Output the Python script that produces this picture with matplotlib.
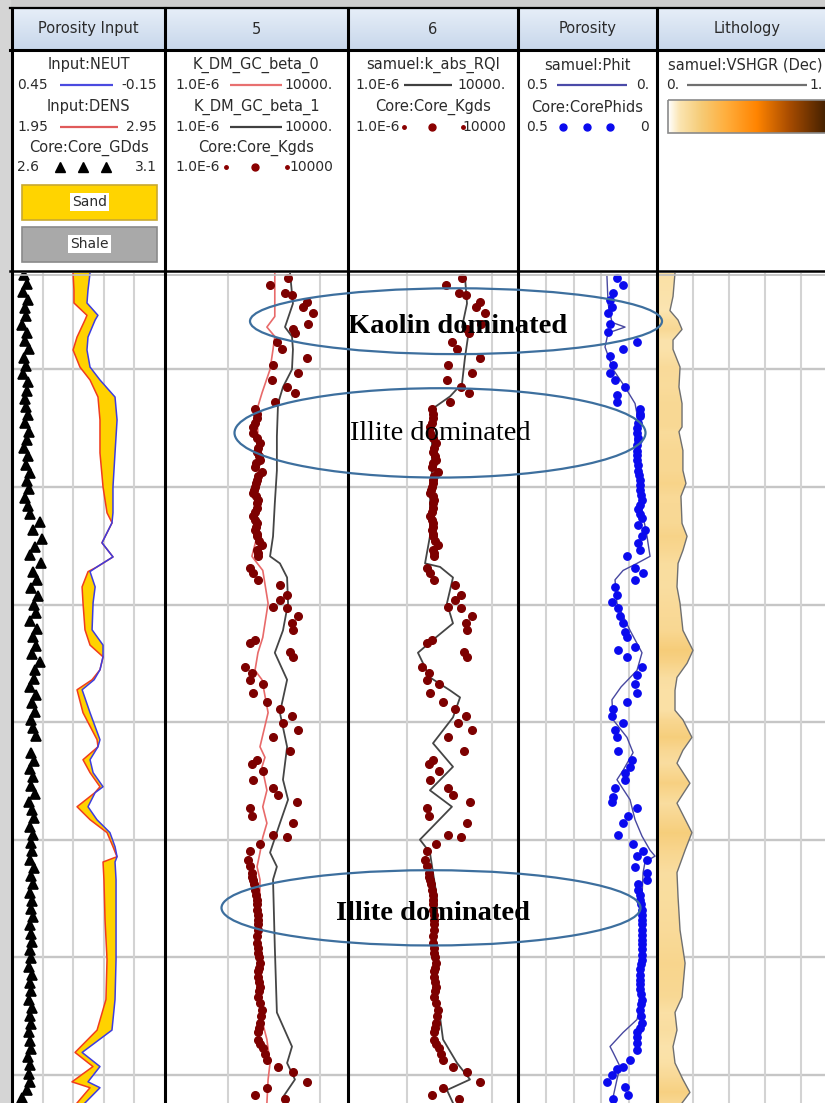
import numpy as np
import matplotlib
matplotlib.use('Agg')
import matplotlib.pyplot as plt
from matplotlib.patches import Ellipse, Rectangle
from matplotlib.colors import LinearSegmentedColormap

W, H = 825, 1103
TOP, BASE = 1801.8, 1872.4
grid_depths = [1810, 1820, 1830, 1840, 1850, 1860, 1870]

# ---------------- Porosity input (NEUT / DENS) ----------------
log_depth = [1801.8, 1803.25, 1804.35, 1805.4, 1805.8, 1807.25, 1808.35, 1809.8, 1810.9, 1812.35,
             1814.3, 1817.1, 1820.0, 1822.2, 1823.05, 1824.75, 1825.95, 1826.8, 1827.2, 1828.5,
             1829.85, 1832.15, 1833.45, 1834.45, 1835.55, 1836.4, 1837.25, 1839.2, 1841.5, 1842.1,
             1843.2, 1844.3, 1845.5, 1846.0, 1847.2, 1848.3, 1849.4, 1850.6, 1851.45, 1851.9,
             1853.4, 1856.8, 1860.2, 1863.6, 1866.2, 1868.1, 1869.3, 1870.6, 1871.1, 1872.4]
dens = [2.349, 2.355, 2.355, 2.440, 2.427, 2.375, 2.349, 2.394, 2.460, 2.512,
        2.525, 2.525, 2.545, 2.571, 2.604, 2.538, 2.610, 2.506, 2.447, 2.408,
        2.414, 2.427, 2.460, 2.545, 2.525, 2.473, 2.375, 2.414, 2.506, 2.512,
        2.414, 2.460, 2.525, 2.492, 2.375, 2.460, 2.571, 2.610, 2.636, 2.545,
        2.551, 2.558, 2.571, 2.564, 2.506, 2.362, 2.479, 2.342, 2.460, 2.375]
neut = [0.144, 0.152, 0.156, 0.113, 0.124, 0.152, 0.156, 0.144, 0.105, 0.046,
        0.038, 0.046, 0.054, 0.054, 0.058, 0.097, 0.054, 0.117, 0.144, 0.124,
        0.132, 0.136, 0.093, 0.093, 0.105, 0.128, 0.175, 0.144, 0.105, 0.113,
        0.144, 0.132, 0.093, 0.124, 0.152, 0.117, 0.066, 0.046, 0.038, 0.046,
        0.042, 0.042, 0.042, 0.046, 0.058, 0.175, 0.105, 0.152, 0.105, 0.164]

# core grain density (triangles)
gd_depth = [1802.0, 1802.7, 1803.4, 1804.1, 1804.8, 1805.5, 1806.2, 1806.9, 1807.6, 1808.3,
            1809.0, 1809.7, 1810.4, 1811.1, 1811.8, 1812.5, 1813.2, 1813.9, 1814.6, 1815.3,
            1816.0, 1816.7, 1817.4, 1818.1, 1818.8, 1819.5, 1820.2, 1820.9, 1821.6, 1822.3,
            1823.0, 1823.7, 1824.4, 1825.1, 1825.8, 1826.5, 1827.2, 1827.9, 1828.6, 1829.3,
            1830.0, 1830.7, 1831.4, 1832.1, 1832.8, 1833.5, 1834.2, 1834.9, 1835.6, 1836.3,
            1837.0, 1837.7, 1838.4, 1839.1, 1839.8, 1840.5, 1841.2, 1842.6, 1843.3, 1844.0,
            1844.7, 1845.4, 1846.1, 1846.8, 1847.5, 1848.2, 1848.9, 1849.6, 1850.3, 1851.0,
            1851.7, 1852.4, 1853.1, 1853.8, 1854.5, 1855.2, 1855.9, 1856.6, 1857.3, 1858.0,
            1858.7, 1859.4, 1860.1, 1860.8, 1861.5, 1862.2, 1862.9, 1863.6, 1864.3, 1865.0,
            1865.7, 1866.4, 1867.1, 1867.8, 1868.5, 1869.2, 1869.9, 1870.6, 1871.3, 1872.0]
core_gd = [2.639, 2.649, 2.636, 2.652, 2.642, 2.646, 2.633, 2.649, 2.642, 2.656,
           2.639, 2.646, 2.636, 2.652, 2.649, 2.642, 2.646, 2.652, 2.642, 2.656,
           2.649, 2.639, 2.652, 2.646, 2.659, 2.649, 2.656, 2.642, 2.652, 2.659,
           2.692, 2.669, 2.698, 2.675, 2.659, 2.695, 2.669, 2.682, 2.662, 2.685,
           2.672, 2.678, 2.659, 2.682, 2.669, 2.678, 2.665, 2.692, 2.675, 2.672,
           2.659, 2.678, 2.665, 2.675, 2.662, 2.669, 2.678, 2.662, 2.672, 2.659,
           2.669, 2.662, 2.675, 2.656, 2.665, 2.672, 2.659, 2.669, 2.662, 2.665,
           2.659, 2.672, 2.662, 2.669, 2.659, 2.665, 2.662, 2.669, 2.659, 2.662,
           2.665, 2.659, 2.662, 2.656, 2.665, 2.659, 2.662, 2.656, 2.665, 2.659,
           2.662, 2.656, 2.659, 2.662, 2.652, 2.659, 2.656, 2.659, 2.649, 2.633]

# ---------------- Permeability ----------------
b0_depth = [1801.8, 1805.5, 1806.4, 1807.2, 1808.3, 1810.0, 1812.0, 1813.4, 1815.7, 1818.6,
            1821.4, 1824.2, 1825.9, 1827.1, 1829.9, 1832.8, 1834.1, 1835.6, 1836.4, 1839.2,
            1842.1, 1843.0, 1843.8, 1845.8, 1847.2, 1848.6, 1849.8, 1851.1, 1852.3, 1853.4,
            1858.5, 1864.7, 1867.0, 1869.0, 1870.4, 1872.4]
k_beta0 = [1.0, 1.0, 0.37, 1.0, 0.80, 0.55, 0.20, 0.107, 0.12, 0.12,
           0.107, 0.107, 0.056, 0.22, 0.43, 0.22, 0.12, 0.083, 0.20, 0.43,
           0.155, 0.29, 0.20, 0.37, 0.22, 0.37, 0.22, 0.155, 0.107, 0.155,
           0.14, 0.155, 0.37, 0.55, 0.43, 0.37]

b1_depth = [1801.8, 1804.4, 1806.4, 1807.2, 1808.3, 1810.0, 1811.5, 1812.9, 1815.7, 1818.6,
            1821.4, 1824.2, 1825.9, 1826.5, 1827.7, 1829.9, 1832.2, 1834.1, 1836.4, 1839.2,
            1842.1, 1844.9, 1846.6, 1848.6, 1851.1, 1852.3, 1853.4, 1859.1, 1864.7, 1867.6,
            1869.0, 1870.4, 1871.9]
k_beta1 = [6.8, 9.8, 3.6, 8.7, 9.8, 8.7, 2.8, 1.5, 1.3, 1.3,
           1.0, 0.80, 0.55, 1.9, 4.7, 5.3, 2.8, 1.0, 4.7, 1.9,
           4.7, 2.8, 5.3, 1.9, 0.55, 1.3, 0.80, 1.0, 1.3, 8.7,
           4.7, 12.6, 2.8]

rqi_depth = [1802.1, 1804.4, 1806.4, 1807.2, 1809.0, 1811.2, 1812.3, 1813.2, 1815.7, 1818.6,
             1821.4, 1824.2, 1826.5, 1826.8, 1827.7, 1829.9, 1831.6, 1833.0, 1834.1, 1836.2,
             1837.3, 1837.9, 1839.6, 1841.8, 1843.8, 1845.8, 1847.2, 1850.0, 1851.1, 1852.8,
             1854.9, 1861.9, 1867.0, 1869.0, 1870.4, 1871.3, 1872.4]
k_rqi = [7.6, 10, 5.1, 11.5, 7.6, 5.1, 1.0, 0.13, 0.087, 0.087,
         0.066, 0.066, 0.034, 0.26, 1.5, 0.66, 1.5, 0.10, 0.013, 0.066,
         1.0, 3.9, 1.5, 0.10, 1.5, 0.066, 1.3, 0.017, 0.066, 0.10,
         0.17, 0.13, 0.39, 2.6, 15, 0.66, 1.5]

kg_depth = [1802.2, 1802.8, 1803.5, 1803.7, 1804.3, 1804.7, 1805.2, 1806.1, 1806.6, 1806.9,
            1807.7, 1808.3, 1809.0, 1809.6, 1810.3, 1810.9, 1811.5, 1812.0, 1812.8, 1813.4,
            1813.8, 1814.1, 1814.6, 1814.9, 1815.4, 1815.8, 1816.3, 1816.7, 1817.0, 1817.4,
            1817.7, 1818.0, 1818.3, 1818.7, 1819.1, 1819.4, 1819.7, 1820.0, 1820.3, 1820.5,
            1820.8, 1821.1, 1821.4, 1821.8, 1822.1, 1822.5, 1822.8, 1823.1, 1823.4, 1823.7,
            1824.0, 1824.2, 1824.6, 1824.9, 1825.4, 1825.6, 1825.9, 1826.9, 1827.3, 1827.9,
            1828.3, 1829.2, 1829.6, 1830.2, 1830.3, 1831.0, 1831.6, 1832.2, 1833.0, 1833.3,
            1834.0, 1834.5, 1835.3, 1835.8, 1836.4, 1836.8, 1837.5, 1838.3, 1838.9, 1839.5,
            1840.1, 1840.7, 1841.3, 1842.5, 1843.2, 1843.6, 1844.2, 1844.9, 1845.6, 1846.2,
            1846.8, 1847.3, 1848.0, 1848.6, 1849.6, 1849.8, 1850.4, 1851.0, 1851.7, 1852.2,
            1852.8, 1853.2, 1853.4, 1853.8, 1854.3, 1854.7, 1855.1, 1855.5, 1856.0, 1856.4,
            1856.8, 1857.2, 1857.7, 1858.2, 1858.8, 1859.2, 1859.6, 1860.0, 1860.5, 1860.9,
            1861.2, 1861.7, 1862.1, 1862.5, 1862.9, 1863.4, 1863.9, 1864.5, 1865.0, 1865.6,
            1866.0, 1866.4, 1867.0, 1867.4, 1867.7, 1868.2, 1868.7, 1869.3, 1869.8, 1870.6,
            1871.1, 1871.7, 1872.1]
core_kgds = [5.3, 0.55, 3.6, 8.7, 58, 35, 122, 65, 9.8, 12.6,
             1.3, 2.5, 58, 0.80, 18.5, 0.71, 4.7, 12.6, 1.0, 0.083,
             0.107, 0.107, 0.083, 0.064, 0.064, 0.107, 0.155, 0.12, 0.107, 0.14,
             0.155, 0.094, 0.083, 0.20, 0.12, 0.107, 0.094, 0.083, 0.073, 0.064,
             0.094, 0.12, 0.107, 0.107, 0.083, 0.064, 0.083, 0.107, 0.094, 0.083,
             0.107, 0.107, 0.14, 0.20, 0.107, 0.12, 0.12, 0.044, 0.064, 0.12,
             1.9, 4.7, 1.9, 0.80, 4.7, 18.5, 8.7, 9.8, 0.083, 0.044,
             6.8, 9.8, 0.023, 0.056, 0.044, 0.22, 0.064, 0.37, 1.9, 8.7,
             2.8, 18.5, 0.80, 6.8, 0.107, 0.056, 0.22, 0.064, 0.80, 1.5,
             16, 0.044, 0.056, 9.8, 0.80, 4.7, 0.155, 0.044, 0.035, 0.044,
             0.056, 0.056, 0.064, 0.073, 0.083, 0.094, 0.107, 0.107, 0.107, 0.12,
             0.12, 0.12, 0.12, 0.107, 0.107, 0.12, 0.12, 0.14, 0.155, 0.14,
             0.12, 0.12, 0.14, 0.155, 0.14, 0.12, 0.155, 0.20, 0.18, 0.155,
             0.14, 0.12, 0.12, 0.155, 0.22, 0.29, 0.37, 1.5, 9.8, 58,
             0.37, 0.083, 3.6]

# ---------------- Porosity ----------------
phit_depth = [1802.1, 1804.4, 1806.0, 1806.4, 1806.9, 1808.1, 1810.0, 1811.5, 1812.9, 1814.3,
              1815.4, 1817.1, 1820.0, 1822.0, 1824.2, 1825.9, 1826.5, 1827.1, 1827.9, 1829.9,
              1832.2, 1834.1, 1835.6, 1837.0, 1838.1, 1839.8, 1841.3, 1842.6, 1844.1, 1844.9,
              1846.6, 1848.3, 1849.7, 1850.9, 1851.4, 1851.9, 1852.8, 1854.9, 1859.1, 1863.4,
              1865.3, 1866.4, 1867.6, 1868.1, 1869.3, 1870.4, 1871.9]
phit = [0.180, 0.176, 0.162, 0.115, 0.176, 0.187, 0.158, 0.115, 0.079, 0.068,
        0.079, 0.068, 0.061, 0.054, 0.036, 0.025, 0.072, 0.122, 0.151, 0.144,
        0.097, 0.054, 0.072, 0.129, 0.162, 0.158, 0.108, 0.086, 0.122, 0.144,
        0.097, 0.079, 0.054, 0.025, 0.007, 0.043, 0.050, 0.054, 0.054, 0.054,
        0.072, 0.122, 0.169, 0.158, 0.133, 0.144, 0.158]

phids_depth = [1802.2, 1802.8, 1803.5, 1804.1, 1804.7, 1805.2, 1806.1, 1806.8, 1807.7, 1808.3,
               1808.9, 1809.6, 1810.3, 1810.9, 1811.5, 1812.2, 1812.8, 1813.4, 1813.8, 1814.0,
               1814.6, 1815.0, 1815.4, 1815.8, 1816.0, 1816.4, 1816.9, 1817.3, 1817.7, 1818.1,
               1818.6, 1819.0, 1819.4, 1819.8, 1820.3, 1820.7, 1821.1, 1821.5, 1821.9, 1822.3,
               1822.6, 1823.2, 1823.7, 1824.2, 1824.8, 1825.4, 1825.9, 1826.9, 1827.3, 1827.9,
               1828.5, 1829.2, 1829.8, 1830.3, 1831.0, 1831.6, 1832.3, 1832.8, 1833.6, 1833.9,
               1834.5, 1835.3, 1836.0, 1836.8, 1837.5, 1838.3, 1838.9, 1839.5, 1840.1, 1840.7,
               1841.3, 1842.5, 1843.2, 1843.8, 1844.3, 1844.9, 1845.6, 1846.4, 1846.8, 1847.3,
               1848.0, 1848.6, 1849.6, 1850.4, 1851.0, 1851.4, 1851.7, 1852.3, 1852.8, 1853.4,
               1853.8, 1854.3, 1854.7, 1855.1, 1855.5, 1856.0, 1856.4, 1856.8, 1857.2, 1857.7,
               1858.1, 1858.5, 1858.9, 1859.3, 1859.8, 1860.2, 1860.6, 1861.0, 1861.5, 1861.9,
               1862.3, 1862.7, 1863.1, 1863.6, 1864.0, 1864.5, 1865.0, 1865.6, 1866.0, 1866.4,
               1866.8, 1867.3, 1867.9, 1868.7, 1869.3, 1869.5, 1870.0, 1870.6, 1871.0, 1871.7,
               1872.1]
core_phids = [0.144, 0.122, 0.158, 0.169, 0.162, 0.176, 0.169, 0.176, 0.072, 0.122,
              0.169, 0.158, 0.169, 0.151, 0.115, 0.144, 0.144, 0.061, 0.061, 0.061,
              0.068, 0.072, 0.072, 0.068, 0.068, 0.072, 0.072, 0.072, 0.072, 0.068,
              0.068, 0.065, 0.061, 0.061, 0.061, 0.058, 0.054, 0.061, 0.068, 0.061,
              0.054, 0.068, 0.043, 0.054, 0.068, 0.061, 0.108, 0.079, 0.050, 0.079,
              0.151, 0.144, 0.162, 0.140, 0.133, 0.122, 0.115, 0.108, 0.079, 0.140,
              0.108, 0.054, 0.072, 0.079, 0.072, 0.108, 0.158, 0.162, 0.122, 0.151,
              0.144, 0.140, 0.090, 0.097, 0.115, 0.115, 0.151, 0.158, 0.162, 0.072,
              0.104, 0.122, 0.140, 0.086, 0.050, 0.072, 0.036, 0.079, 0.036, 0.036,
              0.068, 0.068, 0.061, 0.061, 0.058, 0.054, 0.054, 0.054, 0.054, 0.054,
              0.054, 0.054, 0.054, 0.054, 0.054, 0.054, 0.058, 0.061, 0.061, 0.061,
              0.061, 0.061, 0.058, 0.054, 0.058, 0.061, 0.058, 0.054, 0.061, 0.072,
              0.072, 0.072, 0.072, 0.097, 0.122, 0.144, 0.162, 0.180, 0.115, 0.104,
              0.158]

# ---------------- Lithology ----------------
vsh_depth = [1801.8, 1803.8, 1805.0, 1805.8, 1806.6, 1807.5, 1808.3, 1809.8, 1811.5, 1812.9,
             1814.9, 1815.3, 1816.9, 1818.6, 1819.7, 1820.8, 1823.1, 1824.2, 1825.4, 1826.5,
             1828.5, 1829.9, 1832.2, 1833.9, 1835.0, 1836.2, 1837.3, 1839.0, 1839.8, 1841.3,
             1842.4, 1843.5, 1845.2, 1846.9, 1849.4, 1850.9, 1852.8, 1854.9, 1857.7, 1860.5,
             1863.4, 1864.7, 1866.2, 1867.6, 1869.0, 1870.4, 1871.5, 1872.4]
vshgr = [0.10, 0.089, 0.072, 0.117, 0.139, 0.089, 0.089, 0.128, 0.122, 0.139,
         0.139, 0.122, 0.144, 0.144, 0.161, 0.133, 0.139, 0.167, 0.144, 0.117,
         0.111, 0.128, 0.144, 0.20, 0.167, 0.111, 0.10, 0.10, 0.144, 0.194,
         0.144, 0.111, 0.183, 0.111, 0.194, 0.156, 0.111, 0.117, 0.128, 0.156,
         0.139, 0.10, 0.111, 0.089, 0.10, 0.144, 0.183, 0.139]

track_titles = ['Porosity Input', '5', '6', 'Porosity', 'Lithology']

# ---------------- layout (pixels) ----------------
track_x = [12, 165, 348, 518, 657, 837]
DATA_Y0, DATA_Y1 = 273, 1103
TXT = '#2b2b2b'

litho_cmap = LinearSegmentedColormap.from_list(
    'litho', [(0, '#ffffff'), (0.07, '#fbe5b2'), (0.2, '#f6cc78'), (0.35, '#ffb040'),
              (0.55, '#ff8400'), (0.75, '#a84c00'), (1.0, '#3a1c00')])
head_cmap = LinearSegmentedColormap.from_list('head', ['#e6eef8', '#c8d7eb'])

fig = plt.figure(figsize=(W / 100, H / 100), dpi=100)
fig.patch.set_facecolor('white')


def px_axes(x0, y0, x1, y1, z=0):
    ax = fig.add_axes([x0 / W, 1 - y1 / H, (x1 - x0) / W, (y1 - y0) / H])
    ax.set_zorder(z)
    ax.patch.set_alpha(0)
    ax.axis('off')
    return ax


# ---- background, header and legends ----
bg = px_axes(0, 0, W, H, z=-1)
bg.imshow(np.linspace(0, 1, 40)[:, None], extent=[12, 837, 50, 8], cmap=head_cmap,
          aspect='auto', zorder=1)
bg.add_patch(Rectangle((0, 0), W, 8, color='#cdcdcd', zorder=0))
bg.add_patch(Rectangle((0, 0), 10, H, color='#d5d5d5', zorder=0))

for i, name in enumerate(track_titles):
    bg.text((track_x[i] + track_x[i + 1]) / 2, 29, name, ha='center', va='center',
            fontsize=10.5, color=TXT)


def ltext(x, y, s, ha='center', size=10.5):
    bg.text(x, y, s, ha=ha, va='center', fontsize=size, color=TXT)


def nums(x0, x1, y, left, right):
    ltext(x0, y, left, 'left', 10)
    ltext(x1, y, right, 'right', 10)


def lline(x0, x1, y, c):
    bg.plot([x0, x1], [y, y], color=c, lw=1.6, solid_capstyle='butt')


# track 1
ltext(88.5, 65, 'Input:NEUT')
nums(17, 157, 85, '0.45', '-0.15'); lline(60, 113, 85, '#4a4ae0')
ltext(88.5, 107, 'Input:DENS')
nums(17, 157, 127, '1.95', '2.95'); lline(60, 118, 127, '#e05a5a')
ltext(88.5, 148, 'Core:Core_GDds')
nums(17, 157, 167, '2.6', '3.1')
bg.plot([60, 83, 106], [167, 167, 167], '^', color='black', ms=7)
bg.add_patch(Rectangle((22, 185), 135, 35, facecolor='#ffd400', edgecolor='#c8a830', lw=1.2))
bg.add_patch(Rectangle((22, 227), 135, 35, facecolor='#a9a9a9', edgecolor='#8a8a8a', lw=1.2))
for y, s in [(202, 'Sand'), (244, 'Shale')]:
    bg.text(89.5, y, s, ha='center', va='center', fontsize=10, color=TXT,
            bbox=dict(facecolor='white', edgecolor='none', pad=1.5))

# track 2
ltext(256.5, 65, 'K_DM_GC_beta_0')
nums(175, 333, 85, '1.0E-6', '10000.'); lline(230, 282, 85, '#e87070')
ltext(256.5, 107, 'K_DM_GC_beta_1')
nums(175, 333, 127, '1.0E-6', '10000.'); lline(230, 282, 127, '#404040')
ltext(256.5, 148, 'Core:Core_Kgds')
nums(175, 333, 167, '1.0E-6', '10000')
bg.plot([226, 287], [167, 167], 'o', color='#8a0000', ms=2.5)
bg.plot([255], [167], 'o', color='#8a0000', ms=5)

# track 3
ltext(433, 65, 'samuel:k_abs_RQI')
nums(355, 506, 85, '1.0E-6', '10000.'); lline(404, 452, 85, '#404040')
ltext(433, 107, 'Core:Core_Kgds')
nums(355, 506, 127, '1.0E-6', '10000')
bg.plot([404, 463], [127, 127], 'o', color='#8a0000', ms=2.5)
bg.plot([432], [127], 'o', color='#8a0000', ms=5)

# track 4
ltext(587.5, 65, 'samuel:Phit')
nums(526, 649, 85, '0.5', '0.'); lline(557, 627, 85, '#4a4aa8')
ltext(587.5, 107, 'Core:CorePhids')
nums(526, 649, 127, '0.5', '0')
bg.plot([563, 587, 610], [127, 127, 127], 'o', color='#0a0aee', ms=5)

# track 5 (its right edge runs past the picture)
ltext(745, 65, 'samuel:VSHGR (Dec)')
nums(666, 823, 85, '0.', '1.'); lline(687, 807, 85, '#707070')
bg.imshow(np.linspace(0, 1, 256)[None, :], extent=[668, 830, 133, 100], cmap=litho_cmap,
          aspect='auto', zorder=1)
bg.add_patch(Rectangle((668, 100), 162, 33, fill=False, edgecolor='#8a8a8a', lw=1.2, zorder=2))

bg.set_xlim(0, W)
bg.set_ylim(H, 0)

# ---- data tracks ----
fifths = [0.2, 0.4, 0.6, 0.8]


def track_axes(i, grid_fracs):
    ax = px_axes(track_x[i], DATA_Y0, track_x[i + 1], DATA_Y1, z=1)
    ax.set_ylim(BASE, TOP)
    for d in grid_depths:
        ax.axhline(d, color='#c6c6c6', lw=1.7, zorder=0.5)
    for f in grid_fracs:
        ax.plot([f, f], [0, 1], transform=ax.transAxes, color='#d3d3d3', lw=1.5, zorder=0.5)
    return ax


def twin(ax, lims):
    t = ax.twiny()
    t.set_zorder(ax.get_zorder() + 0.1)
    t.axis('off')
    t.set_xlim(*lims)
    t.set_ylim(BASE, TOP)
    return t


# track 1: porosity input
ax1 = track_axes(0, fifths)
ax1.set_xlim(1.95, 2.95)
dens_a = np.array(dens)
neut_eq = 1.95 + (0.45 - np.array(neut)) / 0.6
ax1.fill_betweenx(log_depth, dens_a, neut_eq, where=neut_eq >= dens_a, interpolate=True,
                  color='#ffd200', lw=0, zorder=1)
ax1.plot(dens, log_depth, color='#f03c1e', lw=1.1, zorder=2)
ax1n = twin(ax1, (0.45, -0.15))
ax1n.plot(neut, log_depth, color='#3c3ce0', lw=1.1)
ax1g = twin(ax1, (2.6, 3.1))
ax1g.plot(core_gd, gd_depth, '^', color='black', ms=7.4, mec='black', mew=1.2)

# track 2: permeability models
ax2 = track_axes(1, [0.345, 0.845])
ax2.set_xscale('log')
ax2.set_xlim(1e-6, 1e4)
ax2.plot(k_beta0, b0_depth, color='#e86a6a', lw=1.2, zorder=2)
ax2.plot(k_beta1, b1_depth, color='#454545', lw=1.3, zorder=2)
ax2.plot(core_kgds, kg_depth, 'o', color='#7d0000', ms=5.5, zorder=3)

# track 3: RQI permeability
ax3 = track_axes(2, [0.345, 0.845])
ax3.set_xscale('log')
ax3.set_xlim(1e-6, 1e4)
ax3.plot(k_rqi, rqi_depth, color='#454545', lw=1.3, zorder=2)
ax3.plot(core_kgds, kg_depth, 'o', color='#7d0000', ms=5.5, zorder=3)

# track 4: porosity
ax4 = track_axes(3, fifths)
ax4.set_xlim(0.5, 0)
ax4.plot(phit, phit_depth, color='#4848a0', lw=1.0, zorder=2)
ax4.plot(core_phids, phids_depth, 'o', color='#0a0aee', ms=5.3, zorder=3)

# track 5: lithology (VSHGR with colour-map fill)
ax5 = track_axes(4, fifths)
ax5.set_xlim(0, 1)
poly = ax5.fill_betweenx(vsh_depth, 0, vshgr, facecolor='none', edgecolor='none')
vsh_c = np.column_stack([vshgr, vshgr])
mesh = ax5.pcolormesh([0, 1], vsh_depth, vsh_c, cmap=litho_cmap, vmin=0, vmax=1,
                      shading='gouraud', zorder=1)
mesh.set_clip_path(poly.get_paths()[0], ax5.transData)
ax5.plot(vshgr, vsh_depth, color='#707070', lw=1.0, zorder=2)
ax5.set_xlim(0, 1)
ax5.set_ylim(BASE, TOP)

# ---- frame lines ----
fr = px_axes(0, 0, W, H, z=6)
fr.set_xlim(0, W)
fr.set_ylim(H, 0)
fr.plot([10, 837], [8, 8], color='black', lw=1.6)
fr.plot([10, 837], [50, 50], color='black', lw=2.2)
fr.plot([10, 837], [271, 271], color='black', lw=1.8)
fr.plot([12, 837], [274.5, 274.5], color='#bdbdbd', lw=1.2)
for x in track_x[:-1]:
    fr.plot([x, x], [8, H], color='black', lw=2.2)

# ---- annotations (x in pixels, y in depth) ----
ann = px_axes(12, DATA_Y0, 837, DATA_Y1, z=7)
ann.set_xlim(12, 837)
ann.set_ylim(BASE, TOP)
for cx, cd, w, h in [(456, 1805.9, 412, 5.6), (440, 1815.4, 411, 7.6), (431, 1855.8, 419, 6.4)]:
    ann.add_patch(Ellipse((cx, cd), w, h, fill=False, edgecolor='#3d6f9e', lw=1.6))
ann.text(458, 1806.9, 'Kaolin dominated', ha='center', va='baseline', fontsize=20.5,
         fontweight='bold', family='Liberation Serif', color='black')
ann.text(440, 1816.0, 'Illite dominated', ha='center', va='baseline', fontsize=20.5,
         family='Liberation Serif', color='black')
ann.text(433, 1856.8, 'Illite dominated', ha='center', va='baseline', fontsize=20.5,
         fontweight='bold', family='Liberation Serif', color='black')

fig.savefig('out.png', dpi=100)
